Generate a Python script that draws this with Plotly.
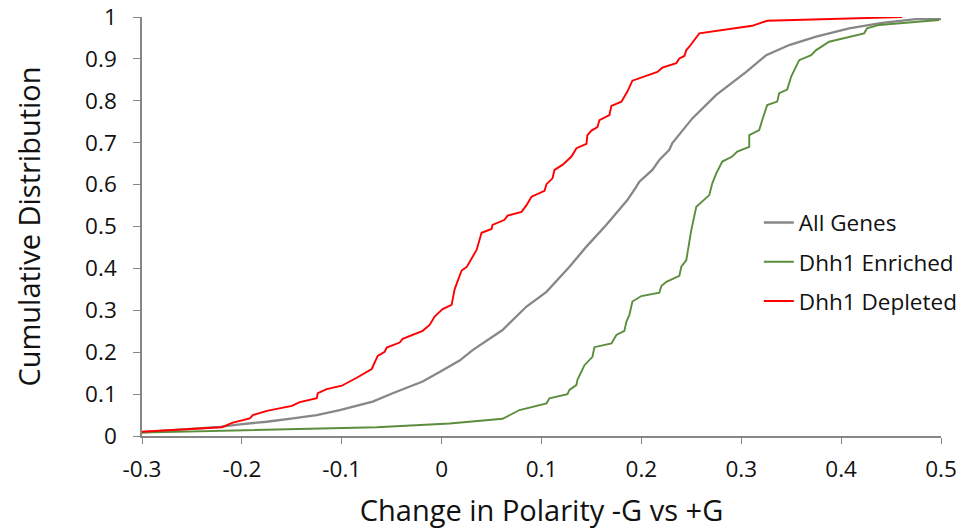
import plotly.graph_objects as go

# ---- data ----
all_x = [-0.300, -0.222, -0.202, -0.175, -0.149, -0.125, -0.102, -0.069, -0.049, -0.019,
         -0.002, 0.018, 0.031, 0.048, 0.061, 0.085, 0.105, 0.128, 0.145, 0.165, 0.178,
         0.186, 0.195, 0.198, 0.211, 0.218, 0.228, 0.231, 0.251, 0.275, 0.305, 0.325,
         0.348, 0.375, 0.408, 0.441, 0.475, 0.500]
all_y = [0.009, 0.022, 0.028, 0.034, 0.042, 0.050, 0.062, 0.082, 0.102, 0.130,
         0.153, 0.180, 0.205, 0.233, 0.253, 0.309, 0.344, 0.404, 0.452, 0.504, 0.539,
         0.563, 0.595, 0.607, 0.635, 0.659, 0.683, 0.699, 0.758, 0.814, 0.869, 0.909,
         0.933, 0.953, 0.973, 0.986, 0.995, 0.995]

enr_x = [-0.300, -0.202, -0.065, 0.008, 0.061, 0.078, 0.105, 0.108, 0.126, 0.128,
         0.135, 0.136, 0.141, 0.143, 0.151, 0.153, 0.170, 0.175, 0.183, 0.185,
         0.188, 0.191, 0.200, 0.218, 0.220, 0.225, 0.238, 0.240, 0.245, 0.248,
         0.250, 0.255, 0.268, 0.271, 0.275, 0.281, 0.291, 0.296, 0.308, 0.308,
         0.318, 0.321, 0.326, 0.336, 0.338, 0.346, 0.350, 0.358, 0.370, 0.375,
         0.388, 0.423, 0.426, 0.438, 0.498]
enr_y = [0.008, 0.013, 0.021, 0.030, 0.041, 0.062, 0.078, 0.090, 0.100, 0.110,
         0.122, 0.134, 0.162, 0.169, 0.189, 0.212, 0.221, 0.241, 0.251, 0.273,
         0.289, 0.321, 0.334, 0.342, 0.358, 0.368, 0.382, 0.404, 0.420, 0.468,
         0.492, 0.547, 0.575, 0.603, 0.627, 0.655, 0.667, 0.679, 0.690, 0.718,
         0.730, 0.754, 0.790, 0.798, 0.818, 0.827, 0.858, 0.897, 0.909, 0.921,
         0.941, 0.961, 0.973, 0.981, 0.993]

dep_x = [-0.300, -0.220, -0.209, -0.192, -0.189, -0.175, -0.150, -0.142, -0.125, -0.124,
         -0.115, -0.100, -0.085, -0.070, -0.064, -0.057, -0.055, -0.042, -0.039, -0.019,
         -0.012, -0.007, 0.001, 0.010, 0.013, 0.016, 0.020, 0.025, 0.030, 0.035,
         0.040, 0.050, 0.051, 0.063, 0.066, 0.080, 0.085, 0.090, 0.103, 0.105,
         0.111, 0.113, 0.121, 0.130, 0.135, 0.145, 0.146, 0.150, 0.156, 0.158,
         0.168, 0.170, 0.180, 0.186, 0.191, 0.200, 0.216, 0.221, 0.235, 0.238,
         0.243, 0.245, 0.248, 0.258, 0.311, 0.326, 0.461]
dep_y = [0.010, 0.021, 0.032, 0.042, 0.050, 0.060, 0.072, 0.081, 0.090, 0.102,
         0.112, 0.120, 0.139, 0.160, 0.191, 0.201, 0.211, 0.223, 0.232, 0.251,
         0.265, 0.285, 0.303, 0.313, 0.350, 0.368, 0.395, 0.403, 0.424, 0.444,
         0.485, 0.494, 0.504, 0.516, 0.526, 0.535, 0.551, 0.571, 0.585, 0.601,
         0.615, 0.635, 0.647, 0.667, 0.687, 0.697, 0.718, 0.729, 0.737, 0.754,
         0.766, 0.788, 0.798, 0.822, 0.848, 0.856, 0.869, 0.879, 0.890, 0.901,
         0.907, 0.921, 0.929, 0.961, 0.979, 0.991, 1.000]

x_ticks = [-0.3, -0.2, -0.1, 0, 0.1, 0.2, 0.3, 0.4, 0.5]
x_tick_text = ["-0.3", "-0.2", "-0.1", "0", "0.1", "0.2", "0.3", "0.4", "0.5"]
y_ticks = [0, 0.1, 0.2, 0.3, 0.4, 0.5, 0.6, 0.7, 0.8, 0.9, 1]
y_tick_text = ["0", "0.1", "0.2", "0.3", "0.4", "0.5", "0.6", "0.7", "0.8", "0.9", "1"]

FONT = "'Open Sans', Lato, sans-serif"
TXT = "#111111"
AXIS_COLOR = "#868686"

fig = go.Figure()
fig.add_trace(go.Scatter(x=all_x, y=all_y, mode="lines", name="All Genes",
                         line=dict(color="#878787", width=2.3), legendgroup="a"))
fig.add_trace(go.Scatter(x=enr_x, y=enr_y, mode="lines", name="Dhh1 Enriched",
                         line=dict(color="#5B8E3C", width=1.9), legendgroup="b"))
fig.add_trace(go.Scatter(x=dep_x, y=dep_y, mode="lines", name="Dhh1 Depleted",
                         line=dict(color="#FF0000", width=1.9), legendgroup="c"))

fig.update_layout(
    width=962, height=531,
    margin=dict(l=142, r=21, t=17, b=95, autoexpand=False),
    paper_bgcolor="white", plot_bgcolor="white",
    font=dict(family=FONT, size=22.5, color=TXT),
    showlegend=True,
    legend=dict(x=0.772, y=0.56, xanchor="left", yanchor="top",
                bgcolor="rgba(0,0,0,0)", tracegroupgap=7,
                font=dict(family=FONT, size=22.5, color=TXT)),
    xaxis=dict(range=[-0.3, 0.5], tickmode="array", tickvals=x_ticks, ticktext=x_tick_text,
               showgrid=False, zeroline=False, showline=True, linecolor=AXIS_COLOR,
               linewidth=1.5, ticks="outside", ticklen=6, tickcolor=AXIS_COLOR,
               tickwidth=1.2, ticklabelstandoff=6, automargin=False,
               title=dict(text="Change in Polarity -G vs +G", standoff=18,
                          font=dict(family=FONT, size=29, color=TXT))),
    yaxis=dict(range=[0, 1], tickmode="array", tickvals=y_ticks, ticktext=y_tick_text,
               showgrid=False, zeroline=False, showline=True, linecolor=AXIS_COLOR,
               linewidth=1.5, ticks="outside", ticklen=7, tickcolor=AXIS_COLOR,
               tickwidth=1.2, ticklabelstandoff=12, automargin=False,
               title=dict(text="Cumulative Distribution", standoff=36,
                          font=dict(family=FONT, size=29, color=TXT))),
)

fig.write_html("out.html")
